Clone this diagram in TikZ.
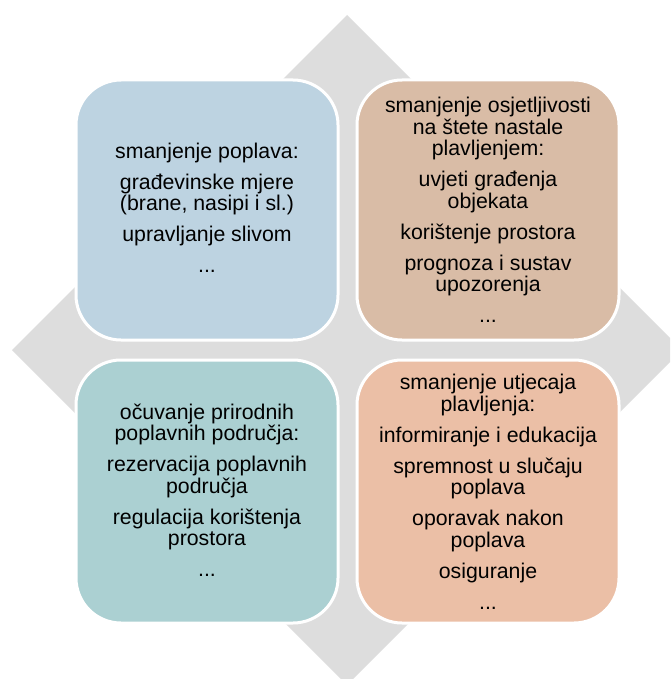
\documentclass[tikz,border=0pt]{standalone}
\usepackage{fontspec}
\setmainfont{Liberation Sans}
\definecolor{dgray}{HTML}{DDDDDD}
\definecolor{cTL}{HTML}{BDD3E1}
\definecolor{cTR}{HTML}{D9BCA6}
\definecolor{cBL}{HTML}{ABD0D2}
\definecolor{cBR}{HTML}{EBBFA6}
\tikzset{
  qbox/.style={draw=white, line width=3pt, rounded corners=45pt},
  qtext/.style={align=center, inner sep=0pt, font=\fontsize{21.3}{21.5}\selectfont, text=black}
}
\begin{document}
\begin{tikzpicture}[x=1pt,y=-1pt]
\useasboundingbox (0,0) rectangle (670,679);
\fill[white] (0,0) rectangle (670,679);
\begin{scope}
\clip (0,0) rectangle (670,679);
\fill[dgray] (347,15) -- (682,350) -- (347,685) -- (12,350) -- cycle;
\end{scope}
\filldraw[qbox, fill=cTL] (76,80) rectangle (338,340);
\filldraw[qbox, fill=cTR] (357,80) rectangle (619,340);
\filldraw[qbox, fill=cBL] (76,360) rectangle (338,623);
\filldraw[qbox, fill=cBR] (357,360) rectangle (619,623);
\node[qtext] (tl) at (207,208) {smanjenje poplava:\\[9.5pt]građevinske mjere\\(brane, nasipi i sl.)\\[9.5pt]upravljanje slivom\\[9.5pt]...};
\node[qtext] (tr) at (488,210) {smanjenje osjetljivosti\\na štete nastale\\plavljenjem:\\[9.5pt]uvjeti građenja\\objekata\\[9.5pt]korištenje prostora\\[9.5pt]prognoza i sustav\\upozorenja\\[9.5pt]...};
\node[qtext] (bl) at (207,490) {očuvanje prirodnih\\poplavnih područja:\\[9.5pt]rezervacija poplavnih\\područja\\[9.5pt]regulacija korištenja\\prostora\\[9.5pt]...};
\node[qtext] (br) at (488,492) {smanjenje utjecaja\\plavljenja:\\[9.5pt]informiranje i edukacija\\[9.5pt]spremnost u slučaju\\poplava\\[9.5pt]oporavak nakon\\poplava\\[9.5pt]osiguranje\\[9.5pt]...};
\end{tikzpicture}
\end{document}
